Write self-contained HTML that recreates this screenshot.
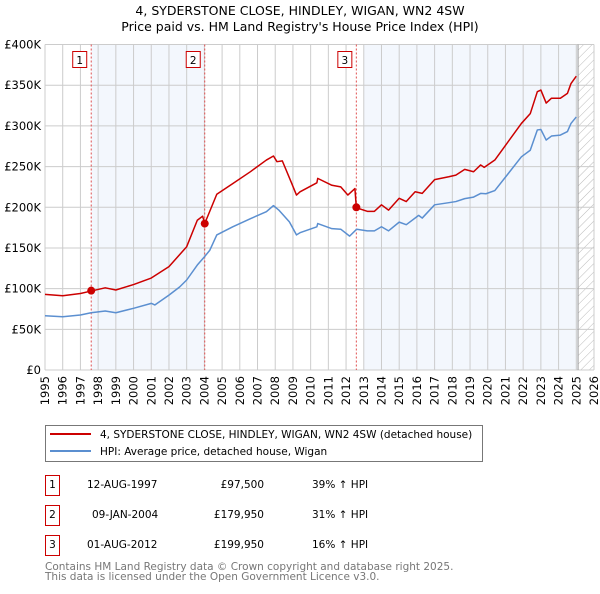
<!DOCTYPE html>
<html><head><meta charset="utf-8"><style>
body{margin:0;background:#fff;font-family:"DejaVu Sans","Liberation Sans",sans-serif;}
svg text{font-family:"DejaVu Sans","Liberation Sans",sans-serif;}
</style></head><body>
<svg id="chart" width="600" height="590" xmlns="http://www.w3.org/2000/svg">
<defs><pattern id="hatch" width="6" height="6" patternUnits="userSpaceOnUse" patternTransform="rotate(45)"><line x1="0" y1="0" x2="0" y2="6" stroke="#bbb" stroke-width="1"/></pattern></defs>
<text x="300" y="15" font-size="12.5" text-anchor="middle">4, SYDERSTONE CLOSE, HINDLEY, WIGAN, WN2 4SW</text>
<text x="300" y="31" font-size="12.5" text-anchor="middle">Price paid vs. HM Land Registry's House Price Index (HPI)</text>
<g id="plot"></g>
<g>
<rect x="45.5" y="425.5" width="437" height="36" fill="#fff" stroke="#777"/>
<line x1="50" y1="434" x2="91" y2="434" stroke="#cc0000" stroke-width="2"/>
<text x="100" y="438" font-size="10.5">4, SYDERSTONE CLOSE, HINDLEY, WIGAN, WN2 4SW (detached house)</text>
<line x1="50" y1="451" x2="91" y2="451" stroke="#5b8fd0" stroke-width="2"/>
<text x="100" y="455" font-size="10.5">HPI: Average price, detached house, Wigan</text>
</g>
<g font-size="10.5">
<rect x="45.5" y="475.5" width="14" height="20" fill="#fff" stroke="#cc0000"/><text x="52.5" y="488" text-anchor="middle">1</text>
<text x="87" y="488">12-AUG-1997</text><text x="264" y="488" text-anchor="end">£97,500</text><text x="312" y="488">39% ↑ HPI</text>
<rect x="45.5" y="505.5" width="14" height="20" fill="#fff" stroke="#cc0000"/><text x="52.5" y="518" text-anchor="middle">2</text>
<text x="92" y="518">09-JAN-2004</text><text x="264" y="518" text-anchor="end">£179,950</text><text x="312" y="518">31% ↑ HPI</text>
<rect x="45.5" y="535.5" width="14" height="20" fill="#fff" stroke="#cc0000"/><text x="52.5" y="548" text-anchor="middle">3</text>
<text x="87" y="548">01-AUG-2012</text><text x="264" y="548" text-anchor="end">£199,950</text><text x="312" y="548">16% ↑ HPI</text>
</g>
<text x="45" y="570" font-size="10.5" fill="#777">Contains HM Land Registry data © Crown copyright and database right 2025.</text>
<text x="45" y="580" font-size="10.5" fill="#777">This data is licensed under the Open Government Licence v3.0.</text>
</svg>
<script>
const redYears=[1995,1996,1997,1997.6,1998.4,1999,2000,2001,2002,2003,2003.6,2003.9,2004.02,2004.7,2005.6,2006.6,2007.5,2007.9,2008.1,2008.4,2008.9,2009.2,2009.4,2010.35,2010.4,2011.2,2011.7,2012.1,2012.5,2012.58,2013.2,2013.6,2014.0,2014.4,2015.0,2015.4,2015.9,2016.3,2017.0,2017.8,2018.2,2018.7,2019.2,2019.6,2019.8,2020.4,2021.0,2021.9,2022.4,2022.8,2023.0,2023.3,2023.6,2024.1,2024.5,2024.7,2025.0];
const redValues=[93,91.3,94,97,101,98.3,105,113,127,151.5,184,189,180,216,229,243.7,258,263,256,257,231,215,219,230,235.5,227,225,215,223,199.4,195,195,203,196.5,211,207,219,217,234,237.5,239.5,246.5,243.6,252,249,258,276,303,315,342,344,328,334,334,340,352,361];
const blueYears=[1995,1996,1997,1997.6,1998.4,1999,2000,2001,2001.2,2002,2002.6,2003,2003.6,2004,2004.3,2004.7,2005.6,2006.6,2007.5,2007.9,2008.2,2008.8,2009.2,2009.4,2010.35,2010.4,2011.2,2011.7,2012.2,2012.6,2013.2,2013.6,2014.0,2014.4,2015.0,2015.4,2016.1,2016.3,2017.0,2017.8,2018.2,2018.7,2019.2,2019.6,2019.9,2020.4,2021.0,2021.9,2022.4,2022.8,2023.0,2023.3,2023.6,2024.1,2024.5,2024.7,2025.0];
const blueValues=[66.7,65.5,67.6,70.4,72.5,70.4,75.8,81.9,79.9,92,102,110.6,129,139,147,166,176,186,194.5,202,196.6,182,166,168.7,176,180,173.7,173,164.5,173,171,171,176,171,181.7,178.6,190,186.7,203,205.6,207,210.6,212.5,217,216.6,220.5,237,262,270,295,295.6,282.6,287.5,288.7,293,303,311];
const saleYears=[1997.61,2004.02,2012.58];
const saleValues=[97.5,179.95,199.95];
const saleLabels=["1","2","3"];
const yTicks=[0,50,100,150,200,250,300,350,400];
const yTickLabels=["£0","£50K","£100K","£150K","£200K","£250K","£300K","£350K","£400K"];
const xTicks=[];for(let y=1995;y<=2026;y++)xTicks.push(y);

const X0=45,X1=594,Y0=370,Y1=44.5;
const xs=y=>X0+(y-1995)*(X1-X0)/31;
const ys=v=>Y0-(v)*(Y0-Y1)/400;
const NS="http://www.w3.org/2000/svg";
const g=document.getElementById('plot');
function mk(t,a,p){const e=document.createElementNS(NS,t);for(const k in a)e.setAttribute(k,a[k]);(p||g).appendChild(e);return e;}

let s;
s=mk('rect',{x:xs(saleYears[0]),y:Y1,width:xs(saleYears[1])-xs(saleYears[0]),height:Y0-Y1,fill:'#eef3fc',opacity:0.7});


s=mk('rect',{x:xs(2013),y:Y1,width:xs(2025.1)-xs(2013),height:Y0-Y1,fill:'#eef3fc',opacity:0.7});


s=mk('rect',{x:xs(2025.1),y:Y1,width:X1-xs(2025.1),height:Y0-Y1,fill:'url(#hatch)'});



xTicks.forEach(y=>{const l=mk('line',{x1:xs(y),x2:xs(y),y1:Y1,y2:Y0,stroke:'#ccc'});


const t=mk('text',{x:0,y:0,'font-size':11.5,'text-anchor':'end',transform:`translate(${xs(y)+4},${Y0+6}) rotate(-90)`});t.textContent=y;

});
yTicks.forEach((v,i)=>{const l=mk('line',{x1:X0,x2:X1,y1:ys(v),y2:ys(v),stroke:'#ccc'});


const t=mk('text',{x:X0-4,y:ys(v)+4,'font-size':11.5,'text-anchor':'end'});t.textContent=yTickLabels[i];

});
s=mk('line',{x1:xs(2025.1),x2:xs(2025.1),y1:Y1,y2:Y0,stroke:'#999'});



saleYears.forEach((y,i)=>{const l=mk('line',{x1:xs(y),x2:xs(y),y1:Y1,y2:Y0,stroke:'#e05050','stroke-dasharray':'2,2'});


const r=mk('rect',{x:xs(y)-18.5,y:51.5,width:14,height:16,fill:'#fff',stroke:'#cc0000'});


const t=mk('text',{x:xs(y)-11.5,y:64,'font-size':10.5,'text-anchor':'middle'});t.textContent=saleLabels[i];

});

function line(xa,va,c,n){const p=mk('polyline',{points:xa.map((y,i)=>xs(y)+','+ys(va[i])).join(' '),fill:'none',stroke:c,'stroke-width':1.5,'stroke-linejoin':'round'});

}
line(blueYears,blueValues,'#5b8fd0','hpi-line');
line(redYears,redValues,'#cc0000','price-line');
saleYears.forEach((y,i)=>{const c=mk('circle',{cx:xs(y),cy:ys(saleValues[i]),r:4,fill:'#cc0000'});

});
</script>
</body></html>
